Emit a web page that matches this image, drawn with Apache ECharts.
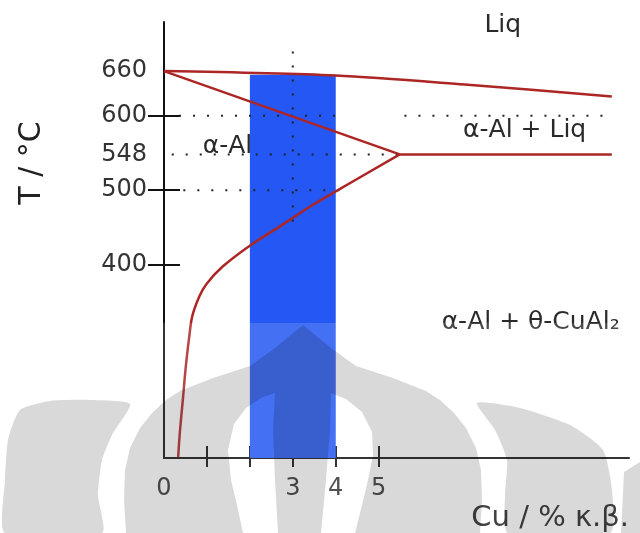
<!DOCTYPE html>
<html>
<head>
<meta charset="utf-8">
<script src="https://cdn.jsdelivr.net/npm/echarts@6/dist/echarts.min.js"></script>
<style>
  html, body { margin: 0; padding: 0; background: #fff; }
  #chart { width: 640px; height: 533px; }
</style>
</head>
<body>
<div id="chart"></div>
<script>
// Al-Cu phase diagram (Al-rich side)
const liqX = [0, 4, 7, 10.43]
const liqT = [660, 654, 642, 626]
const solidX = [0, 5.49]
const solidT = [660, 548]
const solvusX = [5.49, 4.02, 3.46, 2.77, 1.99, 1.36, 0.99, 0.83, 0.66, 0.59, 0.51, 0.44, 0.37, 0.33]
const solvusT = [548, 499, 480, 454, 425, 397, 374, 358, 331, 304, 264, 219, 175, 141]
const eutX = [5.49, 10.43]
const eutT = [548, 548]

// alloy range highlighted in blue
const barX = [2, 4]
const barT = [140, 655]

// dotted guide lines
const guides = [
  { x: [0.35, 4.0], t: [600, 600] },
  { x: [5.6, 10.45], t: [600, 600] },
  { x: [0.18, 5.45], t: [548, 548] },
  { x: [0.45, 4.25], t: [500, 500] },
  { x: [3, 3], t: [458, 692] },
]

const yLabels = [400, 500, 548, 600, 660]
const yTicks = [400, 500, 600]
const xLabels = [0, 3, 4, 5]
const xTicks = [1, 2, 3, 4, 5]

const regionNames = ['Liq', 'α-Al + Liq', 'α-Al', 'α-Al + θ-CuAl₂']
const regionX = [7.89, 8.4, 1.48, 8.54]
const regionT = [721, 580, 559, 322]

const RED = '#ad2626'
const FONT = 'DejaVu Sans'
const SHADE = 'rgba(0,0,0,0.15)'

const pairs = (xs, ts) => xs.map((x, i) => [x, ts[i]])

const chart = echarts.init(document.getElementById('chart'))

const axisBase = {
  type: 'value',
  splitLine: { show: false },
}

// watermark: big pointed arch with two white crescents cut out of it
const archPts = [
  [126, 533], [124, 500], [125, 470], [130, 448], [140, 428], [152, 413], [166, 400], [180, 391],
  [213, 378], [250, 366], [275, 348], [303, 325], [331, 348], [356, 366], [393, 378], [426, 391],
  [440, 400], [454, 413], [466, 428], [476, 448], [481, 470], [482, 500], [480, 533],
  [355, 533], [362, 505], [368, 480], [373, 455], [372, 432], [362, 412], [346, 399], [331, 393],
  [330, 430], [326, 480], [321, 533],
  [278, 533], [275, 480], [273, 430], [275, 393],
  [261, 398], [246, 408], [234, 424], [228, 450], [231, 480], [237, 505], [243, 533],
]

chart.setOption({
  animation: false,
  backgroundColor: '#fff',
  grid: { left: 164, right: 11, top: 22, bottom: 74 },
  xAxis: [
    {
      ...axisBase,
      min: 0, max: 10.83, interval: 1,
      position: 'bottom',
      axisLine: { lineStyle: { color: '#111', width: 2 } },
      axisTick: { show: true, customValues: xTicks, length: 9, lineStyle: { color: '#111', width: 2 } },
      axisLabel: { customValues: xLabels, color: '#333', fontSize: 24, fontFamily: FONT, margin: 19 },
      name: 'Cu / % κ.β.',
      nameLocation: 'end',
      nameGap: 0,
      nameTextStyle: { fontSize: 29, fontFamily: FONT, color: '#222', align: 'right', verticalAlign: 'top', padding: [46, 0, 0, 0] },
    },
    {
      ...axisBase,
      min: 0, max: 10.83, interval: 1,
      position: 'bottom',
      offset: 0,
      axisLine: { show: false },
      axisTick: { show: true, inside: true, customValues: xTicks, length: 12, lineStyle: { color: '#111', width: 2 } },
      axisLabel: { show: false },
    },
  ],
  yAxis: [
    {
      ...axisBase,
      min: 140, max: 726,
      position: 'left',
      axisLine: { show: true, lineStyle: { color: '#111', width: 2 } },
      axisTick: { show: true, customValues: yTicks, length: 16, lineStyle: { color: '#111', width: 2 } },
      axisLabel: { customValues: yLabels, color: '#333', fontSize: 24, fontFamily: FONT, margin: 17 },
      name: 'T / °C',
      nameLocation: 'middle',
      nameRotate: 90,
      nameGap: 117,
      nameTextStyle: { fontSize: 30, fontFamily: FONT, color: '#222', padding: [0, 0, 0, 154] },
    },
    {
      ...axisBase,
      min: 140, max: 726,
      position: 'left',
      offset: 0,
      axisLine: { show: false },
      axisTick: { show: true, inside: true, customValues: yTicks, length: 16, lineStyle: { color: '#111', width: 2 } },
      axisLabel: { show: false },
    },
  ],
  series: [
    {
      type: 'line',
      data: [],
      silent: true,
      z: 1,
      markArea: {
        silent: true,
        itemStyle: { color: '#2457f3' },
        data: [[{ coord: [barX[0], barT[0]] }, { coord: [barX[1], barT[1]] }]],
      },
    },
    ...guides.map(g => ({
      type: 'line',
      data: pairs(g.x, g.t),
      symbol: 'none',
      silent: true,
      z: 3,
      lineStyle: { color: '#222', width: 2, type: [2, 12] },
    })),
    {
      type: 'line', name: 'liquidus', data: pairs(liqX, liqT), symbol: 'none', smooth: 0.3, z: 4,
      lineStyle: { color: RED, width: 2.5 },
    },
    {
      type: 'line', name: 'solidus', data: pairs(solidX, solidT), symbol: 'none', z: 4,
      lineStyle: { color: RED, width: 2.5 },
    },
    {
      type: 'line', name: 'solvus', data: pairs(solvusX, solvusT), symbol: 'none', smooth: 0.4, z: 4,
      lineStyle: { color: RED, width: 2.5 },
    },
    {
      type: 'line', name: 'eutectic', data: pairs(eutX, eutT), symbol: 'none', z: 4,
      lineStyle: { color: RED, width: 2.5 },
    },
    {
      type: 'scatter',
      symbolSize: 0,
      silent: true,
      z: 5,
      itemStyle: { opacity: 1 },
      data: regionNames.map((n, i) => ({ name: n, value: [regionX[i], regionT[i]] })),
      label: {
        show: true, position: 'inside', formatter: '{b}',
        color: '#2a2a2a', fontSize: 25, fontFamily: FONT, opacity: 1,
      },
    },
  ],
  graphic: [
    {
      type: 'rect', silent: true, z: 100,
      shape: { x: 0, y: 323, width: 640, height: 210 },
      style: { fill: 'rgba(255,255,255,0.15)' },
    },
    {
      type: 'polygon', silent: true, z: 101,
      shape: { points: archPts },
      style: { fill: SHADE },
    },
    {
      type: 'polygon', silent: true, z: 101,
      shape: {
        smooth: 0.2,
        points: [[130, 404], [90, 400], [50, 401], [20, 410], [8, 440], [5, 480], [5, 533],
          [102, 533], [98, 495], [102, 460], [112, 435]],
      },
      style: { fill: SHADE },
    },
    {
      type: 'polygon', silent: true, z: 101,
      shape: {
        smooth: 0.2,
        points: [[477, 403], [520, 408], [570, 425], [603, 450], [612, 490], [610, 533],
          [508, 533], [505, 495], [507, 460], [495, 430]],
      },
      style: { fill: SHADE },
    },
    {
      type: 'polygon', silent: true, z: 101,
      shape: { points: [[624, 472], [640, 462], [640, 533], [621, 533]] },
      style: { fill: SHADE },
    },
  ],
})
</script>
</body>
</html>
